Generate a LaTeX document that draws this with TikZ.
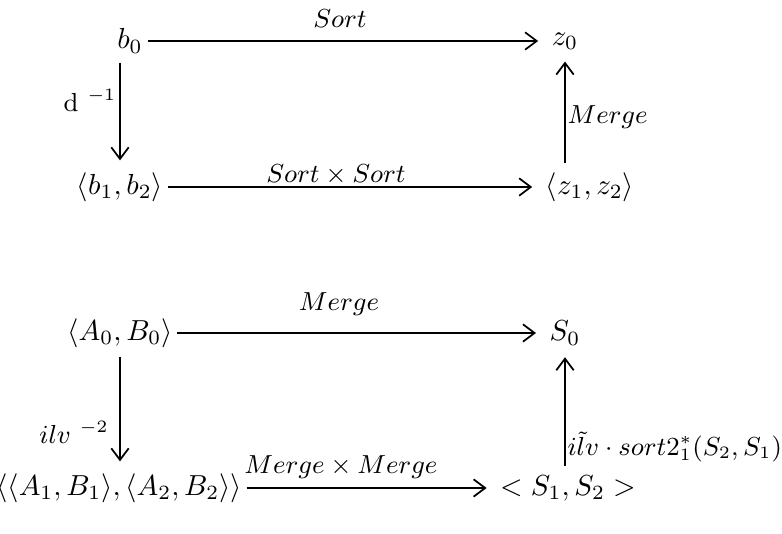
\documentclass[tikz,border=0pt]{standalone}
\usetikzlibrary{arrows.meta}
\begin{document}
\begin{tikzpicture}[x=0.34527pt,y=-0.34527pt,
  >={Straight Barb[length=4pt,width=6pt]},
  arr/.style={->,line width=0.6pt,shorten >=3pt},
  obj/.style={inner xsep=1.5pt,inner ysep=3pt},
  lbl/.style={inner sep=0pt,font=\small}]
\useasboundingbox (0,0) rectangle (782,534);
% top square
\node[obj] (b0) at (130,41) {$b_0$};
\node[obj] (z0) at (565,41) {$z_0$};
\node[obj] (b12) at (120,187) {$\langle b_1,b_2\rangle$};
\node[obj] (z12) at (590,187) {$\langle z_1,z_2\rangle$};
\draw[arr] (b0.east) -- (z0.west |- b0.east);
\draw[arr] (b12.east) -- (z12.west |- b12.east);
\draw[arr,shorten >=1pt] (b12.north |- b0.south) -- (b12.north);
\draw[arr,shorten >=1pt] (z0.south |- z12.north) -- (z0.south);
\node[lbl] (l1) at (340,19) {$Sort$};
\node[lbl] (l2) at (336,175) {$Sort\times Sort$};
\node[lbl] (l3) at (90,100) {$\mathrm{d}\ ^{-1}$};
\node[lbl,anchor=west] (l4) at (567,117) {$Merge$};
% bottom square
\node[obj] (a0) at (120,333) {$\langle A_0,B_0\rangle$};
\node[obj] (s0) at (565,333) {$S_0$};
\node[obj] (a12) at (119,488) {$\langle\langle A_1,B_1\rangle,\langle A_2,B_2\rangle\rangle$};
\node[obj] (s12) at (568,488) {$<S_1,S_2>$};
\draw[arr] (a0.east) -- (s0.west |- a0.east);
\draw[arr] (a12.east) -- (s12.west |- a12.east);
\draw[arr,shorten >=1pt] (a0.south) -- (a0.south |- a12.north);
\draw[arr,shorten >=1pt] (s0.south |- s12.north) -- (s0.south);
\node[lbl] (l5) at (339,304) {$Merge$};
\node[lbl] (l6) at (341,467) {$Merge\times Merge$};
\node[lbl] (l7) at (74,432) {$ilv\ ^{-2}$};
\node[lbl,anchor=west] (l8) at (567,447) {$i\tilde{l}v\cdot sort2^*_1(S_2,S_1)$};
\end{tikzpicture}
\end{document}
